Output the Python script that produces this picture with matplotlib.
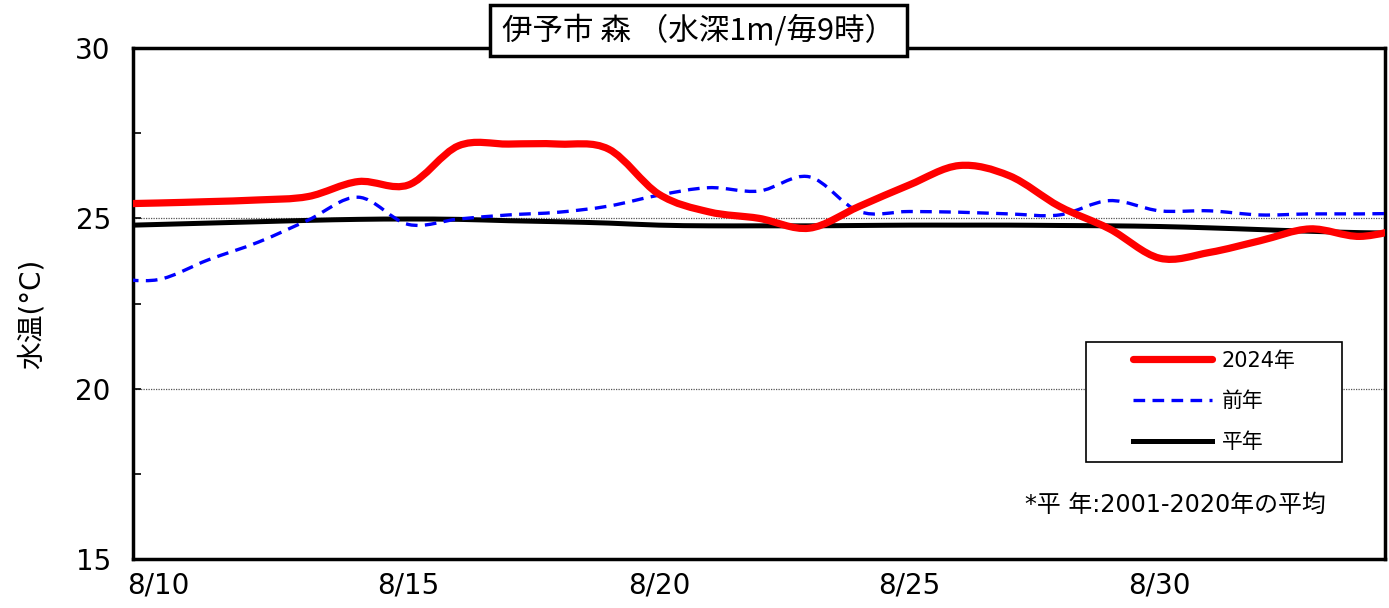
import numpy as np
import matplotlib.pyplot as plt
from matplotlib.path import Path
from matplotlib.patches import PathPatch, Rectangle
from matplotlib.lines import Line2D
from matplotlib.ticker import MultipleLocator

plt.rcParams['font.family'] = ['Noto Sans CJK JP', 'DejaVu Sans']
mixta = ['DejaVu Sans', 'Noto Sans CJK JP']

# 毎日9時の値 (8/9 ～ 9/4)、各日の区間の中央に置く
dias = np.arange(-1, 26) + 0.5  # 8/10 0時からの日数
agua_2024 = [25.42, 25.45, 25.49, 25.54, 25.64, 26.08, 25.98, 27.13, 27.18, 27.18,
             27.03, 25.71, 25.19, 25.00, 24.71, 25.35, 25.98, 26.55, 26.25, 25.35,
             24.69, 23.83, 24.00, 24.34, 24.69, 24.47, 24.75]
agua_prev = [23.25, 23.20, 23.78, 24.30, 24.95, 25.62, 24.82, 24.98, 25.10, 25.18,
             25.36, 25.68, 25.90, 25.80, 26.22, 25.20, 25.20, 25.18, 25.13, 25.10,
             25.52, 25.22, 25.22, 25.10, 25.13, 25.13, 25.15]
agua_norm = [24.78, 24.82, 24.86, 24.90, 24.94, 24.97, 24.98, 24.97, 24.93, 24.90,
             24.86, 24.80, 24.78, 24.78, 24.78, 24.79, 24.80, 24.80, 24.80, 24.79,
             24.78, 24.76, 24.72, 24.67, 24.62, 24.58, 24.56]
xticks_pos = [0.5, 5.5, 10.5, 15.5, 20.5]
xticks_lab = ['8/10', '8/15', '8/20', '8/25', '8/30']


# Excel風のなめらかな線 (Catmull-Rom -> Bezier)
def curva_suave(x, y):
    p = np.column_stack([x, y])
    ext = np.vstack([p[0], p, p[-1]])
    verts = [p[0]]
    codes = [Path.MOVETO]
    for i in range(len(p) - 1):
        p0, p1, p2, p3 = ext[i], ext[i + 1], ext[i + 2], ext[i + 3]
        verts += [p1 + (p2 - p0) / 6, p2 - (p3 - p1) / 6, p2]
        codes += [Path.CURVE4] * 3
    return Path(verts, codes)


fig = plt.figure(figsize=(13.89, 6.08), dpi=100)
ax = fig.add_axes([133 / 1389, 1 - 559 / 608, 1252 / 1389, 511 / 608])

ax.add_patch(PathPatch(curva_suave(dias, agua_norm), fill=False, color='black',
                       lw=3.6, zorder=3))
ax.add_patch(PathPatch(curva_suave(dias, agua_prev), fill=False, color='#0000ff',
                       lw=2.4, linestyle=(0, (3.5, 2.2)), zorder=4))
ax.add_patch(PathPatch(curva_suave(dias, agua_2024), fill=False, color='#ff0000',
                       lw=5.2, capstyle='round', zorder=5))

ax.set_xlim(0, 25)
ax.set_ylim(15, 30)
ax.yaxis.set_major_locator(MultipleLocator(5))
ax.yaxis.set_minor_locator(MultipleLocator(2.5))
ax.set_xticks(xticks_pos)
ax.set_xticklabels(xticks_lab)
ax.tick_params(axis='y', which='both', direction='in', length=6, width=1.2,
               labelsize=20, pad=16)
ax.tick_params(axis='x', length=0, pad=9, labelsize=20)
for lab in ax.get_xticklabels() + ax.get_yticklabels():
    lab.set_fontfamily(mixta)
for s in ax.spines.values():
    s.set_linewidth(2.5)
for v in [20, 25]:
    ax.axhline(v, color='#555555', lw=0.9, ls=(0, (1, 1)), zorder=1)

ax.set_ylabel('水温(°C)', fontsize=20, family=mixta)
ax.yaxis.set_label_coords(-0.07, 0.48)

# 題名 (枠は図の座標で描く)
fig.patches.append(Rectangle((490 / 1389, 1 - 56 / 608), 417 / 1389, 51 / 608,
                             transform=fig.transFigure, fc='white', ec='black',
                             lw=2.5, zorder=5))
fig.text(698 / 1389, 1 - 31 / 608, '伊予市 森 （水深1m/毎9時）', fontsize=22,
         ha='center', va='center', zorder=6)

# 凡例
ax.add_patch(Rectangle((0.761, 0.19), 0.205, 0.235, transform=ax.transAxes,
                       fc='white', ec='black', lw=1.2, zorder=8))
manijas = [Line2D([], [], color='#ff0000', lw=5.2, solid_capstyle='round'),
           Line2D([], [], color='#0000ff', lw=2.4, ls=(0, (3.5, 2.2))),
           Line2D([], [], color='black', lw=3.6)]
leg = ax.legend(manijas, ['2024年', '前年', '平年'], loc='upper left',
                bbox_to_anchor=(0.7987, 0.408), prop={'family': mixta, 'size': 15},
                frameon=False, handlelength=3.8, borderpad=0, labelspacing=1.0,
                handletextpad=0.45, borderaxespad=0)
leg.set_zorder(10)

ax.text(0.7125, 0.1057, '*平 年:2001-2020年の平均', transform=ax.transAxes,
        fontsize=17.2, family=mixta, ha='left', va='center')

fig.savefig('out.png', dpi=100)
